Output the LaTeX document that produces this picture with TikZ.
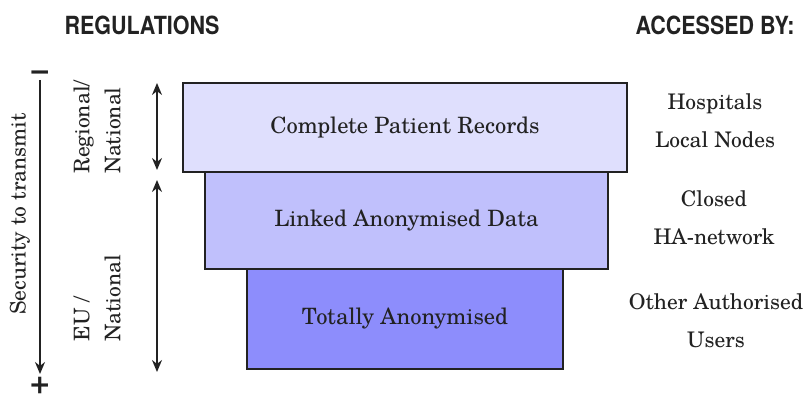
\documentclass[tikz,border=0pt]{standalone}
\usepackage{fontspec}
\setmainfont{texgyreschola-regular.otf}[BoldFont=texgyreschola-bold.otf]
\newfontfamily\headfont[FakeStretch=0.86]{TeX Gyre Heros}
\usepackage{tikz}
\usetikzlibrary{arrows.meta}

\definecolor{inkgray}{RGB}{34,34,34}
\definecolor{recfill}{RGB}{223,223,253}
\definecolor{linkfill}{RGB}{192,192,252}
\definecolor{anonfill}{RGB}{141,141,252}

\begin{document}
\begin{tikzpicture}[x=1pt,y=-1pt,
  every node/.style={text=inkgray},
  layer/.style={draw=inkgray,line width=1.8pt,inner sep=0pt,font=\fontsize{22.5}{26}\selectfont},
  heading/.style={font=\headfont\bfseries\fontsize{25}{28}\selectfont},
  sidelabel/.style={rotate=90,align=left,font=\fontsize{21.5}{31}\selectfont},
  accesslabel/.style={align=center,font=\fontsize{21.5}{38}\selectfont},
  sign/.style={inner sep=0pt,font=\bfseries\fontsize{32}{32}\selectfont},
  span/.style={line width=1.8pt,draw=inkgray,{Stealth[length=12pt,width=10pt]}-{Stealth[length=12pt,width=10pt]}}]
\useasboundingbox (0,0) rectangle (806,401);
% headings
\path (142,25) node (regs) [heading] {REGULATIONS};
\path (715,25) node (access) [heading] {ACCESSED BY:};
% the three layers
\path (405,127.5) node (records) [layer,fill=recfill,minimum width=444pt,minimum height=89pt] {Complete Patient Records};
\path (406.5,220.5) node (linked) [layer,fill=linkfill,minimum width=403pt,minimum height=97pt] {Linked Anonymised Data};
\path (405,319) node (anon) [layer,fill=anonfill,minimum width=316pt,minimum height=100pt] {Totally Anonymised};
% who accesses what
\path (715,121) node (hosp) [accesslabel] {Hospitals\\Local Nodes};
\path (714,217.5) node (closed) [accesslabel] {Closed\\HA-network};
\path (716,321) node (others) [accesslabel] {Other Authorised\\Users};
% regulations
\path (97,127) node (regional) [sidelabel] {Regional/\\National};
\path (97,298) node (eu) [sidelabel] {EU /\\National};
\path (157,83) coordinate (rtop);
\path (157,170) coordinate (rbot);
\path (157,180) coordinate (etop);
\path (157,372) coordinate (ebot);
\draw [span] (rtop) to (rbot);
\draw [span] (etop) to (ebot);
% security axis
\path (40,76) node (minus) [sign] {−};
\path (40,385) node (plus) [sign] {+};
\path (40,80) coordinate (stop);
\path (40,374) coordinate (sbot);
\draw [line width=1.8pt,draw=inkgray,-{Stealth[length=12pt,width=10pt]}] (stop) to (sbot);
\path (20,214) node (security) [rotate=90,font=\fontsize{21.5}{26}\selectfont] {Security to transmit};
\end{tikzpicture}
\end{document}
